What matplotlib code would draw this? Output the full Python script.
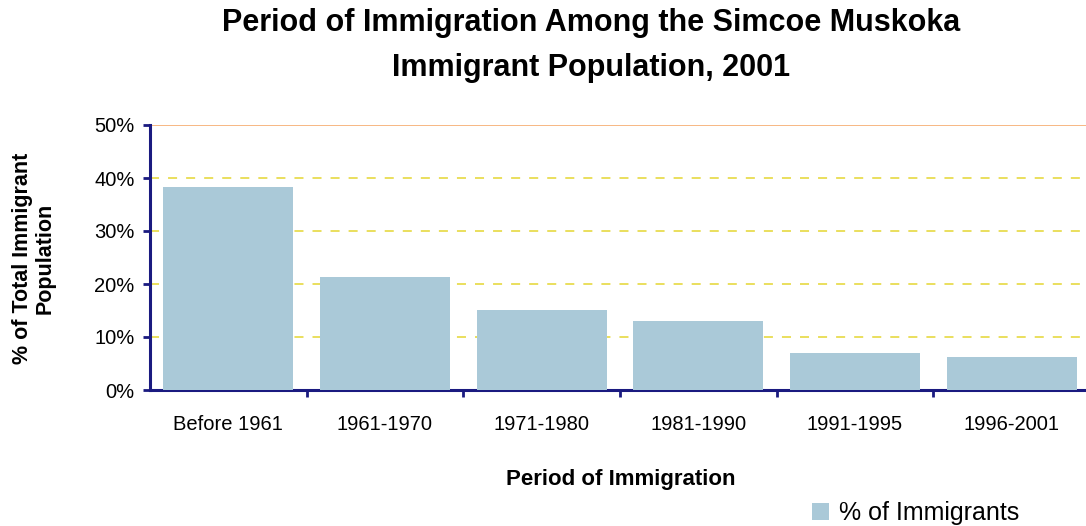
import matplotlib.pyplot as plt
import numpy as np

periods = ['Before 1961', '1961-1970', '1971-1980', '1981-1990', '1991-1995', '1996-2001']
pct_immigrants = [38.3, 21.3, 15.1, 13.0, 7.0, 6.2]
y_ticks = [0, 10, 20, 30, 40, 50]

plt.rcParams['font.family'] = ['Liberation Sans', 'DejaVu Sans']

fig = plt.figure(figsize=(10.86, 5.26), dpi=100)
ax = fig.add_axes([150 / 1086, 1 - 390 / 526, 940 / 1086, 265 / 526])

x = np.arange(len(periods))
bars = ax.bar(x, pct_immigrants, width=0.83, color='#aac9d8', zorder=3,
              label='% of Immigrants')

# gridlines
for t in y_ticks[1:-1]:
    ax.axhline(t, color='#e8dc50', linestyle=(0, (5, 5)), linewidth=1.3, zorder=1)
ax.axhline(50, color='#f7b27a', linewidth=1.3, zorder=1)

ax.set_xlim(-0.5, len(periods) - 0.5)
ax.set_ylim(0, 50)
ax.set_yticks(y_ticks)
ax.set_yticklabels([f'{t}%' for t in y_ticks], fontsize=14.5)
ax.set_xticks(x)
ax.set_xticklabels(periods, fontsize=14.5)
ax.tick_params(axis='x', length=0, pad=18)
ax.set_xticks(np.arange(len(periods) - 1) + 0.5, minor=True)
ax.tick_params(axis='x', which='minor', length=5, width=2, color='#1a1a80')
ax.tick_params(axis='y', length=5, width=2, color='#1a1a80', pad=6)

for side in ['top', 'right']:
    ax.spines[side].set_visible(False)
for side in ['left', 'bottom']:
    ax.spines[side].set_color('#1a1a80')
    ax.spines[side].set_linewidth(2.2)

fig.text(591 / 1086, 1 - 23 / 526, 'Period of Immigration Among the Simcoe Muskoka',
         ha='center', va='center', fontsize=22, fontweight='bold')
fig.text(591 / 1086, 1 - 68 / 526, 'Immigrant Population, 2001',
         ha='center', va='center', fontsize=22, fontweight='bold')
fig.text(34 / 1086, 1 - 258 / 526, '% of Total Immigrant\nPopulation', rotation=90,
         ha='center', va='center', fontsize=15.5, fontweight='bold', linespacing=1.1)
fig.text(621 / 1086, 1 - 480 / 526, 'Period of Immigration', ha='center', va='center',
         fontsize=16, fontweight='bold')

fig.legend(handles=[bars], loc='center left', bbox_to_anchor=(789 / 1086, 1 - 513 / 526),
           frameon=False, fontsize=18, handlelength=0.7, handleheight=0.7, handletextpad=0.4)

fig.savefig('out.png', dpi=100)
